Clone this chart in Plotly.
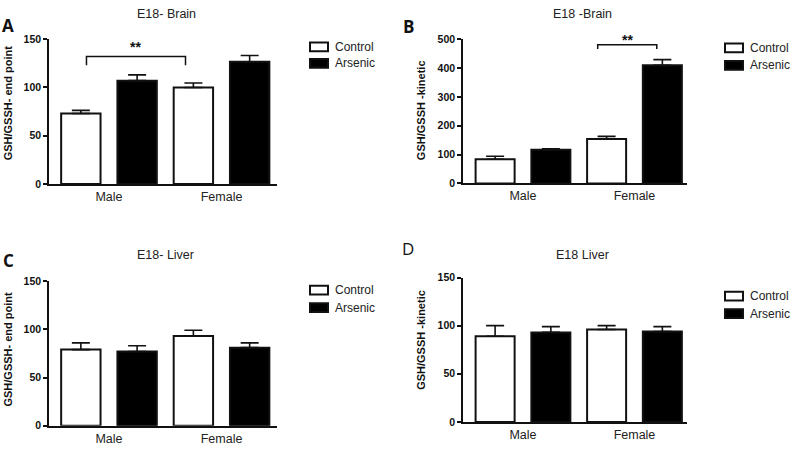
import plotly.graph_objects as go

W, H = 791, 449

categories = ["Male", "Female"]
series_names = ["Control", "Arsenic"]

# Panel A: E18- Brain, GSH/GSSH end point
a_control = [73, 100]
a_control_err = [3.3, 4.6]
a_arsenic = [107, 126.5]
a_arsenic_err = [6, 6.5]

# Panel B: E18 -Brain, GSH/GSSH kinetic
b_control = [84, 154]
b_control_err = [10, 9]
b_arsenic = [117, 409]
b_arsenic_err = [3, 20]

# Panel C: E18- Liver, GSH/GSSH end point
c_control = [79, 93]
c_control_err = [7, 6]
c_arsenic = [77, 81]
c_arsenic_err = [6, 5]

# Panel D: E18 Liver, GSH/GSSH kinetic
d_control = [89, 96]
d_control_err = [11, 4]
d_arsenic = [93, 94]
d_arsenic_err = [6, 5]

panel_letters = ["A", "B", "C", "D"]
panel_titles = ["E18- Brain", "E18 -Brain", "E18- Liver", "E18 Liver"]
y_titles = ["GSH/GSSH- end point", "GSH/GSSH -kinetic", "GSH/GSSH- end point", "GSH/GSSH -kinetic"]
y_ranges = [[0, 150], [0, 500], [0, 150], [0, 150]]
y_dticks = [50, 100, 50, 50]

data = [
    (a_control, a_control_err, a_arsenic, a_arsenic_err),
    (b_control, b_control_err, b_arsenic, b_arsenic_err),
    (c_control, c_control_err, c_arsenic, c_arsenic_err),
    (d_control, d_control_err, d_arsenic, d_arsenic_err),
]

# layout geometry in pixels (left, right, top, bottom)
boxes = [
    (49, 277, 34, 183),
    (463, 687, 34, 182.3),
    (49, 277, 282.7, 431.3),
    (463, 687, 279, 427.3),
]
x_ranges = [[-0.533, 1.493], [-0.538, 1.471], [-0.533, 1.493], [-0.538, 1.471]]

def px(x):
    return x / W

def py(y):
    return 1 - y / H

fig = go.Figure()
colors = ["white", "black"]
BLACK = "#111111"

for i, (ctl, ctl_e, ars, ars_e) in enumerate(data):
    n = "" if i == 0 else str(i + 1)
    for j, (vals, errs) in enumerate([(ctl, ctl_e), (ars, ars_e)]):
        fig.add_trace(go.Bar(
            x=categories, y=vals, name=series_names[j],
            xaxis="x" + n, yaxis="y" + n,
            marker=dict(color=colors[j], line=dict(color=BLACK, width=2)),
            error_y=dict(type="data", array=errs, arrayminus=[0] * len(errs),
                         symmetric=False, color=BLACK, thickness=1.6, width=9),
            showlegend=False,
        ))
    l, r, t, b = boxes[i]
    fig.layout["xaxis" + n] = dict(
        domain=[px(l), px(r)], anchor="y" + n, type="category",
        range=x_ranges[i], showline=True, linecolor=BLACK, linewidth=1.5,
        ticks="", showgrid=False, zeroline=False,
        tickfont=dict(family="Liberation Sans, Arial", size=12.5, color="#222"),
    )
    fig.layout["yaxis" + n] = dict(
        domain=[py(b), py(t)], anchor="x" + n, range=y_ranges[i],
        dtick=y_dticks[i], showline=True, linecolor=BLACK, linewidth=1.5,
        ticks="outside", ticklen=4, tickwidth=1.5, tickcolor=BLACK,
        showgrid=False, zeroline=False,
        tickfont=dict(family="Liberation Sans, Arial", size=10.5, color=BLACK, weight="bold"),
    )

annotations = []
shapes = []

letter_pos = [(8, 20), (408, 21), (8, 262), (408, 249)]
title_pos = [(166, 8), (582, 8), (165, 256), (582, 256)]
ytitle_pos = [(8, 100), (421, 107), (8, 353), (421, 343)]
legend_pos = [(310, 42, 59), (725, 43, 61), (310, 292, 310), (725, 298, 316)]

for i in range(4):
    lx, ly = letter_pos[i]
    annotations.append(dict(text=panel_letters[i], x=px(lx), y=py(ly), xref="paper", yref="paper",
                            showarrow=False, xanchor="center", yanchor="middle",
                            font=dict(family="Open Sans, Liberation Sans", size=17, color=BLACK,
                                      weight="bold" if i < 3 else "normal")))
    tx, ty = title_pos[i]
    annotations.append(dict(text=panel_titles[i], x=px(tx), y=py(ty), xref="paper", yref="paper",
                            showarrow=False, xanchor="center", yanchor="middle",
                            font=dict(family="Liberation Sans, Arial", size=12.5, color="#222")))
    yx, yy = ytitle_pos[i]
    annotations.append(dict(text=y_titles[i], x=px(yx), y=py(yy), xref="paper", yref="paper",
                            showarrow=False, xanchor="center", yanchor="middle", textangle=-90,
                            font=dict(family="Liberation Sans, Arial", size=11, color=BLACK, weight="bold")))
    bx, cy1, cy2 = legend_pos[i]
    for j, cy in enumerate([cy1, cy2]):
        shapes.append(dict(type="rect", xref="paper", yref="paper",
                           x0=px(bx), x1=px(bx + 18), y0=py(cy + 4.5), y1=py(cy - 4.5),
                           fillcolor=colors[j], line=dict(color=BLACK, width=2)))
        annotations.append(dict(text=series_names[j], x=px(bx + 23), y=py(cy), xref="paper", yref="paper",
                                showarrow=False, xanchor="left", yanchor="middle",
                                font=dict(family="Liberation Sans, Arial", size=12, color="#222")))

# significance brackets (category index + bar offset), in data coordinates
brackets = [
    # axis suffix, x0, x1, y top, y drop, label y
    ("", -0.2, 0.68, 132, 123, 142),
    ("2", 0.67, 1.2, 480, 466, 496),
]
for n, x0, x1, ytop, ydrop, ylab in brackets:
    shapes.append(dict(type="path", xref="x" + n, yref="y" + n,
                       path=f"M {x0},{ydrop} L {x0},{ytop} L {x1},{ytop} L {x1},{ydrop}",
                       line=dict(color=BLACK, width=1.5)))
    annotations.append(dict(text="**", x=(x0 + x1) / 2, y=ylab, xref="x" + n, yref="y" + n,
                            showarrow=False, xanchor="center", yanchor="middle",
                            font=dict(family="Liberation Sans, Arial", size=14, color=BLACK, weight="bold")))

fig.update_layout(
    width=W, height=H, margin=dict(l=0, r=0, t=0, b=0),
    paper_bgcolor="white", plot_bgcolor="white",
    barmode="group", bargap=0.0, bargroupgap=0.3,
    annotations=annotations, shapes=shapes, showlegend=False,
)

fig.write_html("out.html", config={"displayModeBar": False},
               post_script="document.body.style.margin='0';document.body.style.overflow='hidden';")
